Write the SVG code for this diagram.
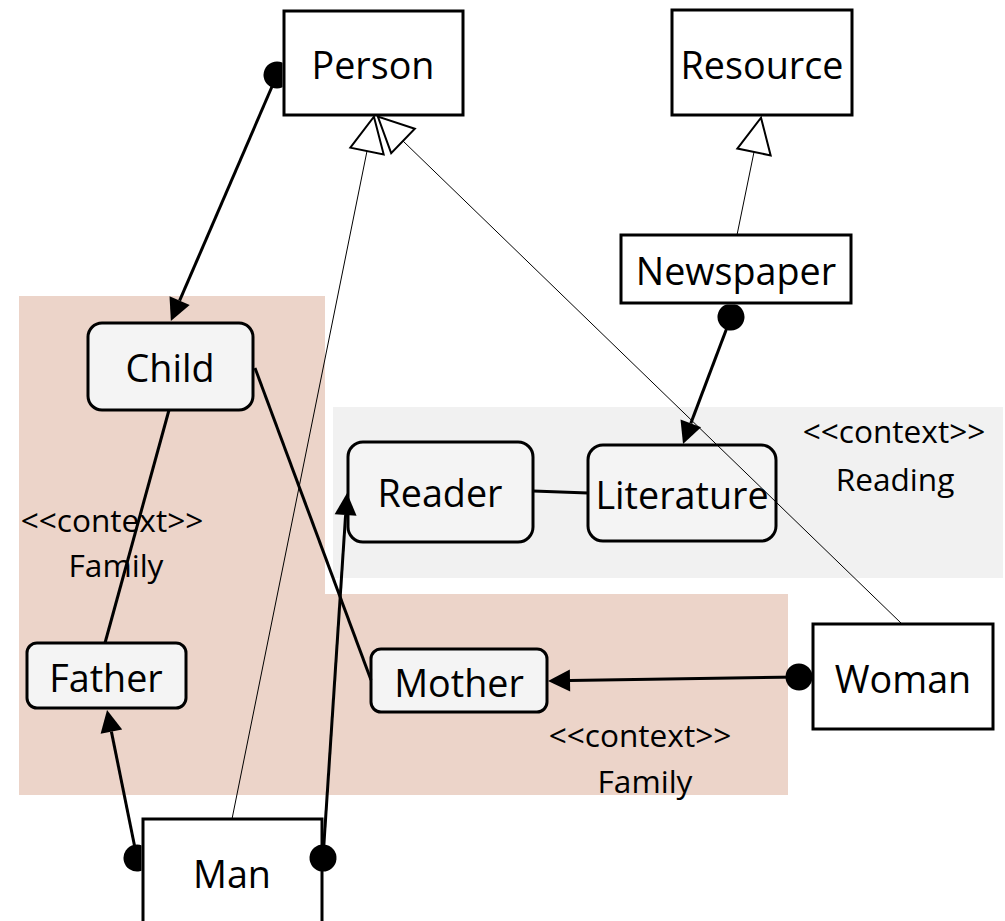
<svg xmlns="http://www.w3.org/2000/svg" width="1005" height="921" viewBox="0 0 1005 921">
<style>
.box{fill:#ffffff;stroke:#000;stroke-width:3}
.role{fill:#f4f4f4;stroke:#000;stroke-width:3}
.lbl{font-family:"Open Sans","Noto Sans","Liberation Sans",sans-serif;font-size:37.7px;fill:#000;text-anchor:middle}
.ctx{font-family:"Open Sans","Noto Sans","Liberation Sans",sans-serif;font-size:31.6px;fill:#000;text-anchor:middle}
.assoc{fill:none;stroke:#000;stroke-width:3}
.gen{fill:none;stroke:#000;stroke-width:1;marker-end:url(#hollow)}
.rel{fill:none;stroke:#000;stroke-width:3;marker-start:url(#dot);marker-end:url(#arrow)}
</style>
<defs>
<marker id="arrow" markerUnits="userSpaceOnUse" viewBox="0 -11 22 22" markerWidth="22" markerHeight="22" refX="0" refY="0" orient="auto" overflow="visible">
<path d="M0,-11 L22,0 L0,11 Z" fill="#000"/>
</marker>
<marker id="hollow" markerUnits="userSpaceOnUse" viewBox="-2 -19 39 38" markerWidth="39" markerHeight="38" refX="0" refY="0" orient="auto" overflow="visible">
<path d="M0,-17 L35,0 L0,17 Z" fill="#fff" stroke="#000" stroke-width="2"/>
</marker>
<marker id="dot" markerUnits="userSpaceOnUse" viewBox="-14 -14 28 28" markerWidth="28" markerHeight="28" refX="0" refY="0" orient="auto" overflow="visible">
<circle cx="0" cy="0" r="13.5" fill="#000"/>
</marker>
<clipPath id="clipPerson" clipPathUnits="userSpaceOnUse"><rect x="0" y="0" width="282.5" height="921"/></clipPath>
<clipPath id="clipNews" clipPathUnits="userSpaceOnUse"><rect x="0" y="304.5" width="1005" height="617"/></clipPath>
<clipPath id="clipManL" clipPathUnits="userSpaceOnUse"><rect x="0" y="0" width="141.5" height="921"/></clipPath>
</defs>

<g id="contexts">
<path id="ctx-family" d="M19,296 H325 V594 H788 V795 H19 Z" fill="#ecd4c9"/>
<rect id="ctx-reading" x="333" y="407" width="670" height="171" fill="#f1f1f1"/>
<text class="ctx" x="112" y="532">&lt;&lt;context&gt;&gt;</text>
<text class="ctx" x="116" y="577">Family</text>
<text class="ctx" x="640" y="747">&lt;&lt;context&gt;&gt;</text>
<text class="ctx" x="645" y="793">Family</text>
<text class="ctx" x="894" y="443">&lt;&lt;context&gt;&gt;</text>
<text class="ctx" x="895" y="491">Reading</text>
</g>

<g id="node-person"><rect class="box" x="284" y="11" width="179" height="104"/><text class="lbl" x="373" y="79">Person</text></g>
<g id="node-resource"><rect class="box" x="672" y="10" width="180" height="105"/><text class="lbl" x="762" y="79">Resource</text></g>
<g id="node-newspaper"><rect class="box" x="621" y="235" width="230" height="68"/><text class="lbl" x="736" y="285">Newspaper</text></g>
<g id="node-child"><rect class="role" x="88" y="323" width="165" height="87" rx="14"/><text class="lbl" x="170" y="382">Child</text></g>
<g id="node-reader"><rect class="role" x="348" y="442" width="185" height="100" rx="15"/><text class="lbl" x="440" y="507">Reader</text></g>
<g id="node-literature"><rect class="role" x="588" y="445" width="188" height="96" rx="15"/><text class="lbl" x="682" y="509">Literature</text></g>
<g id="node-father"><rect class="role" x="27" y="643" width="159" height="65" rx="10"/><text class="lbl" x="106" y="692">Father</text></g>
<g id="node-mother"><rect class="role" x="371" y="649" width="176" height="63" rx="10"/><text class="lbl" x="459" y="697">Mother</text></g>
<g id="node-woman"><rect class="box" x="813" y="624" width="180" height="105"/><text class="lbl" x="903" y="693">Woman</text></g>
<g id="node-man"><rect class="box" x="143" y="819" width="179" height="120"/><text class="lbl" x="232" y="888">Man</text></g>

<g id="connectors">
<path class="rel" d="M277,75 L179.6,300.7" clip-path="url(#clipPerson)"/>
<path class="rel" d="M731,317 L690.8,423.4" clip-path="url(#clipNews)"/>
<path class="rel" d="M323,858 L345.6,515"/>
<path class="rel" d="M137,858 L111.4,731.6" clip-path="url(#clipManL)"/>
<path class="rel" d="M799,677 L570,680.6"/>
<path class="assoc" d="M533,491 L588,493"/>
<path class="assoc" d="M169,410 L105,643"/>
<path class="assoc" d="M255,368 L371,680"/>
<path class="gen" d="M232,819 L367,151"/>
<path class="gen" d="M902,624 L403,141"/>
<path class="gen" d="M737,235 L754,152"/>
</g>
</svg>
